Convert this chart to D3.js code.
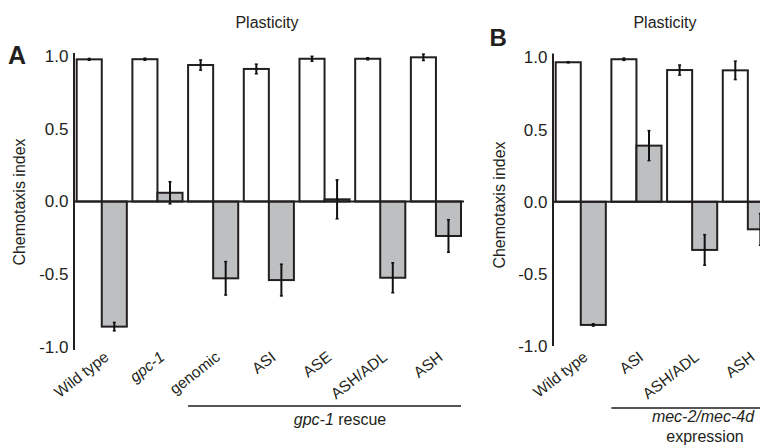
<!DOCTYPE html>
<html>
<head>
<meta charset="utf-8">
<script src="https://cdn.jsdelivr.net/npm/d3@7"></script>
<style>
  body { margin: 0; background: #fff; }
  text { font-family: "Liberation Sans", Arial, sans-serif; fill: #231f20; }
</style>
</head>
<body>
<div id="chart"></div>
<script>
// Data - panel A
const catsA = ["Wild type", "gpc-1", "genomic", "ASI", "ASE", "ASH/ADL", "ASH"]
const whiteA = [0.977, 0.978, 0.938, 0.911, 0.981, 0.981, 0.991]
const whiteErrA = [0.006, 0.007, 0.035, 0.033, 0.017, 0.007, 0.022]
const grayA = [-0.860, 0.060, -0.528, -0.540, 0.015, -0.524, -0.237]
const grayErrA = [0.029, 0.076, 0.115, 0.109, 0.134, 0.103, 0.112]
const italicA = ["gpc-1"]

// Data - panel B
const catsB = ["Wild type", "ASI", "ASH/ADL", "ASH"]
const whiteB = [0.967, 0.988, 0.913, 0.911]
const whiteErrB = [0.004, 0.008, 0.035, 0.064]
const grayB = [-0.854, 0.389, -0.334, -0.191]
const grayErrB = [0.008, 0.104, 0.106, 0.11]

const yTicks = [1.0, 0.5, 0.0, -0.5, -1.0]

// Dimensions
const width = 760
const height = 448
const barStroke = "#231f20"
const grayFill = "#bebfc1"
const labelAngle = -38

const svg = d3.select("#chart")
  .append("svg")
    .attr("width", width)
    .attr("height", height)

function drawPanel(p) {
  let g = svg.append("g")

  let x = d3.scaleBand()
    .domain(p.cats)
    .range(p.xRange)
    .paddingInner(0.1)
    .paddingOuter(0)
  let sub = d3.scaleBand()
    .domain(["white", "gray"])
    .range([0, x.bandwidth()])
  let y = d3.scaleLinear()
    .domain([-1, 1])
    .range(p.yRange)

  let rows = p.cats.map(function(c, i) {
    return [
      {cat: c, kind: "white", v: p.white[i], e: p.whiteErr[i]},
      {cat: c, kind: "gray", v: p.gray[i], e: p.grayErr[i]}
    ]
  }).flat()

  // bars
  g.selectAll(".bar")
      .data(rows)
      .enter().append("rect")
      .attr("x", function(d) { return x(d.cat) + sub(d.kind) })
      .attr("y", function(d) { return y(Math.max(0, d.v)) })
      .attr("width", sub.bandwidth())
      .attr("height", function(d) { return Math.abs(y(d.v) - y(0)) })
      .attr("fill", function(d) { return d.kind == "white" ? "#fff" : grayFill })
      .attr("stroke", barStroke)
      .attr("stroke-width", 2)

  // error bars
  g.selectAll(".err")
      .data(rows)
      .enter().append("line")
      .attr("x1", function(d) { return x(d.cat) + sub(d.kind) + sub.bandwidth() / 2 })
      .attr("x2", function(d) { return x(d.cat) + sub(d.kind) + sub.bandwidth() / 2 })
      .attr("y1", function(d) { return y(d.v + d.e) })
      .attr("y2", function(d) { return y(d.v - d.e) })
      .attr("stroke", "#111")
      .attr("stroke-width", 2)

  let caps = rows.flatMap(function(d) { return [Object.assign({end: d.v + d.e}, d), Object.assign({end: d.v - d.e}, d)] })
  g.selectAll(".cap")
      .data(caps)
      .enter().append("line")
      .attr("x1", function(d) { return x(d.cat) + sub(d.kind) + sub.bandwidth() / 2 - 1.5 })
      .attr("x2", function(d) { return x(d.cat) + sub(d.kind) + sub.bandwidth() / 2 + 1.5 })
      .attr("y1", function(d) { return y(d.end) })
      .attr("y2", function(d) { return y(d.end) })
      .attr("stroke", "#111")
      .attr("stroke-width", 1.5)

  // zero line and y axis
  g.append("line")
      .attr("x1", p.axisX).attr("x2", p.zeroEnd)
      .attr("y1", y(0)).attr("y2", y(0))
      .attr("stroke", barStroke)
      .attr("stroke-width", 2)
  g.append("line")
      .attr("x1", p.axisX).attr("x2", p.axisX)
      .attr("y1", p.axisTop).attr("y2", p.axisBottom)
      .attr("stroke", barStroke)
      .attr("stroke-width", 2)

  // tick labels use a plain hyphen like the original
  g.selectAll(".tick")
      .data(yTicks)
      .enter().append("text")
      .attr("x", p.axisX - 5.5)
      .attr("y", function(d) { return y(d) })
      .attr("dy", "0.35em")
      .attr("text-anchor", "end")
      .style("font-size", "17px")
      .text(function(d) { return d.toFixed(1) })

  g.append("text")
      .attr("transform", "translate(" + p.titleX + "," + p.titleY + ") rotate(-90)")
      .attr("text-anchor", "middle")
      .style("font-size", "16px")
      .text("Chemotaxis index")

  g.append("text")
      .attr("x", p.headX)
      .attr("y", 28)
      .attr("text-anchor", "middle")
      .style("font-size", "16px")
      .text("Plasticity")

  g.append("text")
      .attr("x", p.letterX)
      .attr("y", p.letterY)
      .style("font-size", p.letterSize)
      .style("font-weight", "bold")
      .text(p.letter)

  // category labels
  g.selectAll(".cat")
      .data(p.cats)
      .enter().append("text")
      .attr("transform", function(d) {
        return "translate(" + (x(d) + x.bandwidth() / 2 + 8) + ",359) rotate(" + labelAngle + ")"
      })
      .attr("text-anchor", "end")
      .style("font-size", "15.5px")
      .style("font-style", function(d) { return italicA.indexOf(d) >= 0 ? "italic" : "normal" })
      .text(function(d) { return d })

  // group bracket
  let gx1 = x(p.groupFrom)
  let gx2 = x(p.cats[p.cats.length - 1]) + x.bandwidth()
  g.append("line")
      .attr("x1", gx1).attr("x2", gx2)
      .attr("y1", p.groupY).attr("y2", p.groupY)
      .attr("stroke", "#555")
      .attr("stroke-width", 2)

  return {x: x, y: y, g: g}
}

let panelA = drawPanel({
  cats: catsA, white: whiteA, whiteErr: whiteErrA, gray: grayA, grayErr: grayErrA,
  xRange: [76.7, 461], yRange: [347, 56],
  axisX: 74, axisTop: 53, axisBottom: 350, zeroEnd: 464,
  titleX: 25, titleY: 202, headX: 267,
  letter: "A", letterX: 8, letterY: 64, letterSize: "25px",
  groupFrom: "genomic", groupY: 406
})

let labA = panelA.g.append("text")
    .attr("x", 340)
    .attr("y", 425)
    .attr("text-anchor", "middle")
    .style("font-size", "16px")
labA.append("tspan").style("font-style", "italic").text("gpc-1")
labA.append("tspan").text(" rescue")

let panelB = drawPanel({
  cats: catsB, white: whiteB, whiteErr: whiteErrB, gray: grayB, grayErr: grayErrB,
  xRange: [555.7, 772.9], yRange: [346, 57.5],
  axisX: 553, axisTop: 53.5, axisBottom: 346, zeroEnd: 780,
  titleX: 505, titleY: 205, headX: 665,
  letter: "B", letterX: 489.5, letterY: 45.5, letterSize: "24px",
  groupFrom: "ASI", groupY: 408
})

panelB.g.append("text")
    .attr("x", 703)
    .attr("y", 421.5)
    .attr("text-anchor", "middle")
    .style("font-size", "16px")
    .style("font-style", "italic")
    .text("mec-2/mec-4d")
panelB.g.append("text")
    .attr("x", 705)
    .attr("y", 441.5)
    .attr("text-anchor", "middle")
    .style("font-size", "16px")
    .text("expression")
</script>
</body>
</html>
